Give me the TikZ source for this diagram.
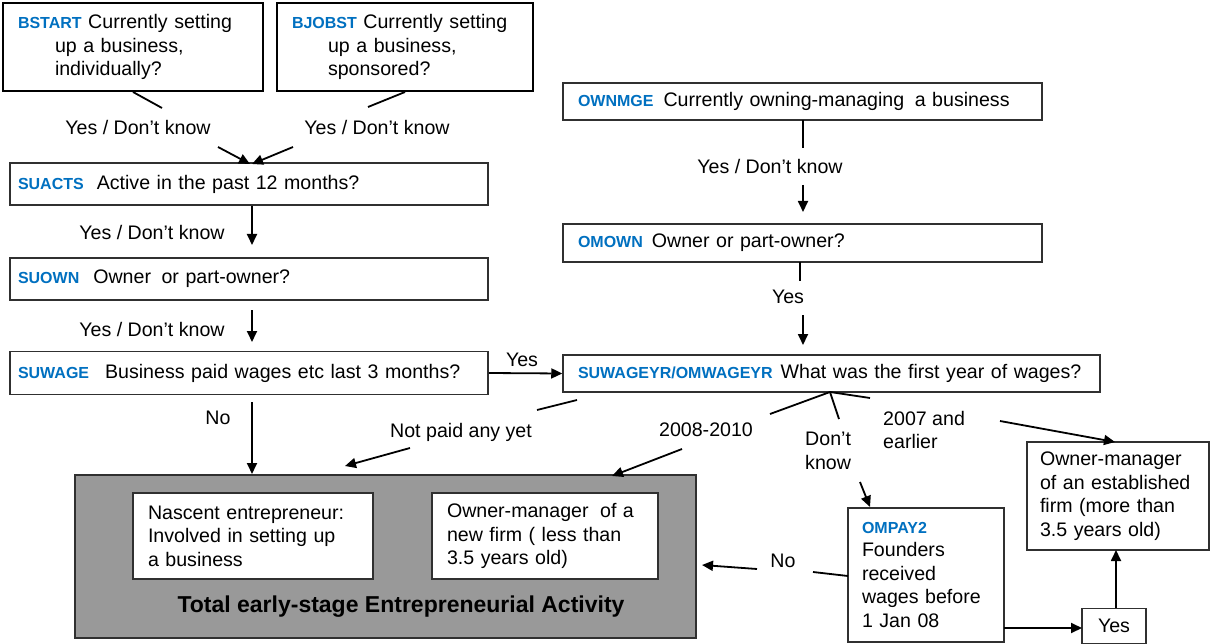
\documentclass[tikz,border=0pt]{standalone}
\usepackage{fontspec}
\setmainfont{Liberation Sans}
\usetikzlibrary{arrows.meta}
\definecolor{qblue}{HTML}{0070C0}
\definecolor{teagray}{HTML}{999999}
\definecolor{edge}{HTML}{303030}
\newcommand\qlbl[1]{{\color{qblue}\bfseries\fontsize{16}{18}\selectfont #1}}
\newcommand\fs{\fontsize{19.6}{23.5}\selectfont}
\tikzset{
  qbox/.style={draw=edge, line width=1.5pt, fill=white, rectangle, align=left, font=\fs, inner ysep=0pt},
  thickbox/.style={qbox, line width=2.4pt, draw=black},
  lab/.style={font=\fs, inner sep=1pt, align=left},
  seg/.style={line width=1.8pt},
  arr/.style={line width=1.8pt, -{Triangle[length=11pt,width=10pt]}},
}
\begin{document}
\begin{tikzpicture}[x=1pt,y=-1pt]
\useasboundingbox (0,0) rectangle (1212,644);

% ---------- boxes ----------
\node[thickbox, minimum width=260, minimum height=88, text width=230, inner xsep=15] (bstart) at (133,47)
  {\qlbl{BSTART} Currently setting\\\hspace*{37pt}up a business,\\\hspace*{37pt}individually?};
\node[thickbox, minimum width=256, minimum height=88, text width=226, inner xsep=15] (bjobst) at (405,47)
  {\qlbl{BJOBST} Currently setting\\\hspace*{36pt}up a business,\\\hspace*{36pt}sponsored?};
\node[qbox, minimum height=42, text width=462, inner xsep=8] (suacts) at (249,184)
  {\qlbl{SUACTS}\hspace{13pt}Active in the past 12 months?};
\node[qbox, minimum height=42, text width=462, inner xsep=8] (suown) at (249,279)
  {\qlbl{SUOWN}\hspace{14pt}Owner\hspace{4pt} or part-owner?};
\node[qbox, minimum height=43, text width=462, inner xsep=8] (suwage) at (249,373)
  {\qlbl{SUWAGE}\hspace{16pt}Business paid wages etc last 3 months?};
\node[qbox, minimum height=37, text width=449, inner xsep=15] (ownmge) at (802.5,101.5)
  {\qlbl{OWNMGE}\hspace{10pt}Currently owning-managing\hspace{4pt} a business};
\node[qbox, minimum height=38, text width=449, inner xsep=15] (omown) at (802.5,243)
  {\qlbl{OMOWN}\hspace{9pt}Owner or part-owner?};
\node[qbox, minimum height=37, text width=507, inner xsep=15] (suwageyr) at (831.5,373.5)
  {\qlbl{SUWAGEYR/OMWAGEYR}\hspace{8pt}What was the first year of wages?};

\node[draw=edge, line width=1.6pt, fill=teagray, minimum width=621, minimum height=163, inner sep=0] (tea) at (385.5,556.5) {};
\node[qbox, minimum height=86, text width=210, inner xsep=15] (nascent) at (253,536)
  {Nascent entrepreneur:\\Involved in setting up\\a business};
\node[qbox, minimum height=86, text width=196, inner xsep=15] (newfirm) at (545,536)
  {Owner-manager\hspace{5pt} of a\\new firm ( less than\\3.5 years old)};
\node[font=\fontsize{23}{26}\selectfont\bfseries, inner sep=0] (teatxt) at (401,607)
  {Total early-stage Entrepreneurial Activity};

\node[qbox, minimum height=134, text width=128, inner xsep=14] (ompay2) at (926,575)
  {\qlbl{OMPAY2}\\Founders\\received\\wages before\\1 Jan 08};
\node[qbox, minimum height=108, text width=156, inner xsep=13] (estab) at (1118,496)
  {Owner-manager\\of an established\\firm (more than\\3.5 years old)};
\node[qbox, minimum width=64, minimum height=35, inner xsep=0, align=center] (yesbox) at (1114,626) {Yes};

% ---------- labels ----------
\node[lab] (l1) at (138,127) {Yes / Don’t know};
\node[lab] (l2) at (377,127) {Yes / Don’t know};
\node[lab] (l3) at (152,232) {Yes / Don’t know};
\node[lab] (l4) at (152,329) {Yes / Don’t know};
\node[lab] (l5) at (218,418) {No};
\node[lab] (l6) at (522,360) {Yes};
\node[lab] (l7) at (770,166) {Yes / Don’t know};
\node[lab] (l8) at (788,297) {Yes};
\node[lab] (l9) at (461,432) {Not paid any yet};
\node[lab] (l10) at (706,430) {2008-2010};
\node[lab, anchor=west] (l11) at (804,451) {Don’t\\know};
\node[lab, anchor=west] (l12) at (882,430) {2007 and\\earlier};
\node[lab] (l13) at (783,561) {No};

% ---------- coordinates ----------
\coordinate (a1) at (133,92);  \coordinate (a2) at (162,108);
\coordinate (a3) at (218,147); \coordinate (a4) at (250,164);
\coordinate (b1) at (405,92);  \coordinate (b2) at (368,107);
\coordinate (b3) at (293,147); \coordinate (b4) at (252,164);
\coordinate (c1) at (252,206); \coordinate (c2) at (252,245);
\coordinate (d1) at (252,310); \coordinate (d2) at (252,342);
\coordinate (e1) at (252,402); \coordinate (e2) at (252,474);
\coordinate (f1) at (803,120); \coordinate (f2) at (803,148);
\coordinate (f3) at (803,185); \coordinate (f4) at (803,212);
\coordinate (g1) at (800,262); \coordinate (g2) at (800,281);
\coordinate (g3) at (803,315); \coordinate (g4) at (803,345);
\coordinate (h1) at (577,400); \coordinate (h2) at (537,410);
\coordinate (h3) at (410,448); \coordinate (h4) at (345,466);
\coordinate (j)  at (830,392);
\coordinate (j1) at (770,414); \coordinate (j2) at (839,419); \coordinate (j3) at (870,398);
\coordinate (k1) at (682,449); \coordinate (k2) at (612,476);
\coordinate (m1) at (860,482); \coordinate (m2) at (870,507);
\coordinate (n1) at (1000,421); \coordinate (n2) at (1115,442);
\coordinate (p1) at (848,576); \coordinate (p2) at (813,572);
\coordinate (p3) at (757,569); \coordinate (p4) at (702,565);
\coordinate (q1) at (1004,628); \coordinate (q2) at (1082,628);
\coordinate (r1) at (1116,608); \coordinate (r2) at (1116,550);

% ---------- connectors ----------
\draw[seg] (a1) -- (a2);
\draw[arr] (a3) -- (a4);
\draw[seg] (b1) -- (b2);
\draw[arr] (b3) -- (b4);
\draw[arr] (c1) -- (c2);
\draw[arr] (d1) -- (d2);
\draw[arr] (e1) -- (e2);
\draw[arr] (suwage.east) -- (suwageyr.west);
\draw[seg] (f1) -- (f2);
\draw[arr] (f3) -- (f4);
\draw[seg] (g1) -- (g2);
\draw[arr] (g3) -- (g4);
\draw[seg] (h1) -- (h2);
\draw[arr] (h3) -- (h4);
\draw[seg] (j1) -- (j) -- (j3);
\draw[seg] (j) -- (j2);
\draw[arr] (k1) -- (k2);
\draw[arr] (m1) -- (m2);
\draw[arr] (n1) -- (n2);
\draw[seg] (p1) -- (p2);
\draw[arr] (p3) -- (p4);
\draw[arr] (q1) -- (q2);
\draw[arr] (r1) -- (r2);
\end{tikzpicture}
\end{document}
